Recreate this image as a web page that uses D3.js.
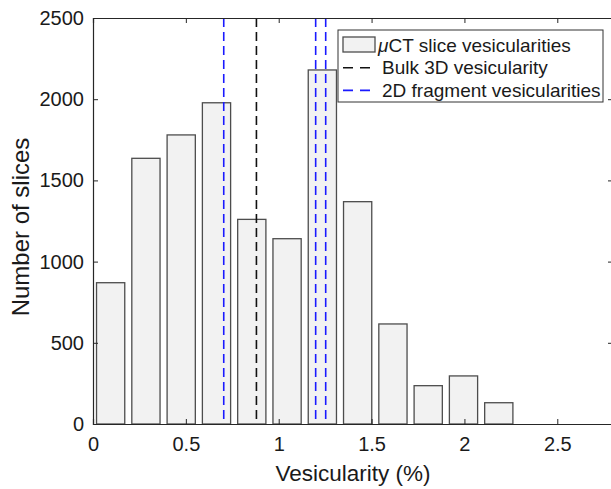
<!DOCTYPE html>
<html>
<head>
<meta charset="utf-8">
<script src="https://cdn.jsdelivr.net/npm/d3@7"></script>
<style>
  body { margin: 0; background: #fff; }
  text { font-family: "Liberation Sans", Arial, Helvetica, sans-serif; fill: #1a1a1a; }
</style>
</head>
<body>
<div id="plot"></div>
<script>
// histogram bins (vesicularity %, bin centres) and slice counts
const binCenters = [0.095, 0.285, 0.475, 0.665, 0.855, 1.045, 1.235, 1.425, 1.615, 1.805, 1.995, 2.185, 2.375, 2.565, 2.755];
const sliceCounts = [870, 1636, 1780, 1978, 1260, 1141, 2180, 1369, 616, 236, 296, 131, 0, 0, 0];
const binWidth = 0.19;

// reference lines
const bulk3D = [0.88];
const fragment2D = [0.704, 1.199, 1.253];

const xTicks = [0, 0.5, 1, 1.5, 2, 2.5];
const yTicks = [0, 500, 1000, 1500, 2000, 2500];

const legendItems = ["CT slice vesicularities", "Bulk 3D vesicularity", "2D fragment vesicularities"];

// canvas
let width = 611;
let height = 489;
let margin = {top: 18, right: -2, bottom: 65, left: 93};

const svg = d3.select("#plot").append("svg")
    .attr("width", width)
    .attr("height", height);

// scales
const xScale = d3.scaleLinear()
    .domain([0, 2.8])
    .range([margin.left, width - margin.right]);

const yScale = d3.scaleLinear()
    .domain([0, 2500])
    .range([height - margin.bottom, margin.top]);

const axisColor = "#262626";

// bars
svg.selectAll("rect.bar")
    .data(binCenters)
    .enter()
    .append("rect")
    .attr("class", "bar")
    .attr("x", d => xScale(d - binWidth * 0.4))
    .attr("width", xScale(binWidth * 0.8) - xScale(0))
    .attr("y", (d, i) => yScale(sliceCounts[i]))
    .attr("height", (d, i) => yScale(0) - yScale(sliceCounts[i]))
    .attr("fill", "#f2f2f2")
    .attr("stroke", "#4d4d4d")
    .attr("stroke-width", 1.3);

// dashed vertical lines
svg.selectAll("line.bulk")
    .data(bulk3D)
    .enter()
    .append("line")
    .attr("x1", d => xScale(d))
    .attr("x2", d => xScale(d))
    .attr("y1", yScale(2500))
    .attr("y2", yScale(0))
    .attr("stroke", "#111")
    .attr("stroke-width", 1.6)
    .attr("stroke-dasharray", "9,5");

svg.selectAll("line.frag")
    .data(fragment2D)
    .enter()
    .append("line")
    .attr("x1", d => xScale(d))
    .attr("x2", d => xScale(d))
    .attr("y1", yScale(2500))
    .attr("y2", yScale(0))
    .attr("stroke", "#1a1aff")
    .attr("stroke-width", 1.6)
    .attr("stroke-dasharray", "9,5");

// axes box (MATLAB style, ticks pointing inward)
const xAxis = d3.axisBottom(xScale).tickValues(xTicks).tickSize(-5).tickPadding(13).tickFormat(d3.format("~g"));
const yAxis = d3.axisLeft(yScale).tickValues(yTicks).tickSize(-5).tickPadding(9).tickFormat(d3.format("d"));

const gx = svg.append("g")
    .attr("transform", `translate(0, ${yScale(0)})`)
    .call(xAxis);
const gy = svg.append("g")
    .attr("transform", `translate(${xScale(0)}, 0)`)
    .call(yAxis);
const gxTop = svg.append("g")
    .attr("transform", `translate(0, ${yScale(2500)})`)
    .call(d3.axisTop(xScale).tickValues(xTicks).tickSize(-5).tickFormat(""));
const gyRight = svg.append("g")
    .attr("transform", `translate(${xScale(2.8)}, 0)`)
    .call(d3.axisRight(yScale).tickValues(yTicks).tickSize(-5).tickFormat(""));

[gx, gy, gxTop, gyRight].forEach(g => {
    g.select(".domain").attr("stroke", axisColor).attr("stroke-width", 1.2);
    g.selectAll(".tick line").attr("stroke", axisColor).attr("stroke-width", 1);
    g.selectAll(".tick text").attr("font-size", 20).attr("fill", "#1a1a1a")
        .style("font-family", "'Liberation Sans', Arial, sans-serif");
});

// axis labels
svg.append("text")
    .attr("x", (xScale(0) + xScale(2.8)) / 2)
    .attr("y", 481)
    .attr("text-anchor", "middle")
    .attr("font-size", 22.5)
    .text("Vesicularity (%)");

svg.append("text")
    .attr("transform", `translate(29, 227) rotate(-90)`)
    .attr("text-anchor", "middle")
    .attr("font-size", 24)
    .text("Number of slices");

// legend
const legend = svg.append("g").attr("transform", "translate(338, 30)");
legend.append("rect")
    .attr("width", 265)
    .attr("height", 72)
    .attr("fill", "#fff")
    .attr("stroke", "#333")
    .attr("stroke-width", 1);

legend.append("rect")
    .attr("x", 5)
    .attr("y", 7)
    .attr("width", 32)
    .attr("height", 15)
    .attr("fill", "#f2f2f2")
    .attr("stroke", "#4d4d4d")
    .attr("stroke-width", 1.3);

const legendColors = [null, "#111", "#1a1aff"];
legendItems.forEach((t, i) => {
    if (i > 0) {
        legend.append("line")
            .attr("x1", 5).attr("x2", 37)
            .attr("y1", 15 + i * 22.7).attr("y2", 15 + i * 22.7)
            .attr("stroke", legendColors[i])
            .attr("stroke-width", 1.6)
            .attr("stroke-dasharray", "10,7");
    }
    const label = legend.append("text")
        .attr("x", i === 0 ? 40 : 44)
        .attr("y", 15 + i * 22.7)
        .attr("dy", "0.35em")
        .attr("font-size", 19);
    if (i === 0) {
        label.append("tspan").attr("font-style", "italic").text("\u03bc");
    }
    label.append("tspan").text(t);
});
</script>
</body>
</html>
